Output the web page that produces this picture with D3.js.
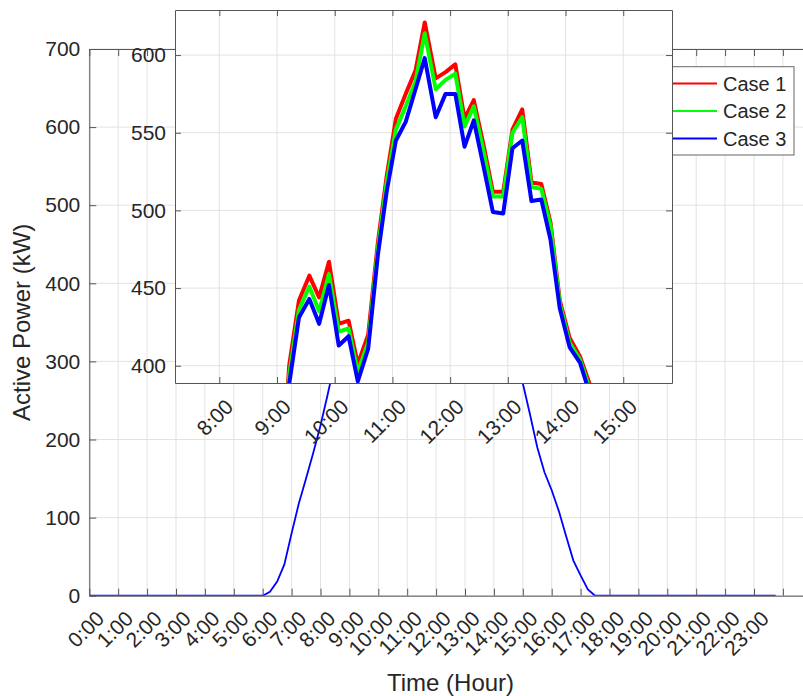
<!DOCTYPE html>
<html>
<head>
<meta charset="utf-8">
<script src="https://cdn.jsdelivr.net/npm/d3@7"></script>
<style>
  body { margin: 0; background: #fff; }
  text { font-family: "Liberation Sans", Arial, sans-serif; fill: #262626; }
  .grid line { stroke: #e2e2e2; stroke-width: 1; }
  .axis path, .axis line { stroke: #555; }
  .axis text { font-size: 21px; }
</style>
</head>
<body>
<svg id="chart" width="803" height="696"></svg>
<script>
// ---- data ----
// whole day, Case 3 (the blue curve), hour of day -> kW
var mainHours = [0, 6, 6.25, 6.5, 6.75, 7, 7.25, 7.5, 7.75, 8, 8.25, 8.5, 8.75, 9, 9.25, 9.5, 9.75, 10,
  10.25, 10.5, 10.75, 11, 11.25, 11.5, 11.75, 12, 12.25, 12.5, 12.75, 13, 13.25, 13.5, 13.75, 14, 14.25,
  14.5, 14.75, 15, 15.25, 15.5, 15.75, 16, 16.25, 16.5, 16.75, 17, 17.25, 17.5, 23.75];
var mainPower = [0, 0, 5, 18, 40, 80, 118, 150, 183, 218, 258, 300, 340, 380, 420, 440, 430, 450,
  420, 400, 470, 540, 560, 595, 560, 575, 545, 540, 500, 520, 545, 505, 480, 420, 400,
  360, 315, 272, 232, 190, 158, 135, 108, 76, 45, 26, 8, 0, 0];
var mainTickHours = [0, 1, 2, 3, 4, 5, 6, 7, 8, 9, 10, 11, 12, 13, 14, 15, 16, 17, 18, 19, 20, 21, 22, 23, 24];
var mainTickLabels = ["0:00", "1:00", "2:00", "3:00", "4:00", "5:00", "6:00", "7:00", "8:00", "9:00", "10:00",
  "11:00", "12:00", "13:00", "14:00", "15:00", "16:00", "17:00", "18:00", "19:00", "20:00", "21:00", "22:00", "23:00"];
var mainYTicks = [0, 100, 200, 300, 400, 500, 600, 700];

// zoomed inset, three cases
var insetHours = [9.04, 9.21, 9.38, 9.56, 9.73, 9.9, 10.07, 10.24, 10.4, 10.58, 10.75, 10.9, 11.06, 11.23,
  11.4, 11.56, 11.75, 11.92, 12.09, 12.25, 12.41, 12.58, 12.74, 12.92, 13.08, 13.25, 13.41, 13.58, 13.74,
  13.9, 14.07, 14.25, 14.42, 14.58];
var case1 = [300, 400, 442, 458, 444, 467, 427, 429, 401, 420, 480, 522, 559, 575, 590, 621, 585, 589, 594,
  559, 571, 542, 512, 512, 552, 565, 518, 517, 492, 442, 418, 406, 388, 330];
var case2 = [300, 394, 436, 451, 435, 459, 422, 424, 396, 415, 476, 518, 552, 567, 583, 614, 578, 584, 588,
  554, 567, 538, 509, 509, 550, 560, 515, 514, 490, 440, 415, 404, 385, 328];
var case3 = [300, 388, 431, 443, 427, 452, 413, 419, 390, 411, 472, 512, 545, 557, 578, 598, 560, 575, 575,
  541, 558, 528, 499, 498, 540, 545, 506, 507, 481, 437, 412, 402, 382, 325];
var insetTickHours = [8, 9, 10, 11, 12, 13, 14, 15];
var insetTickLabels = ["8:00", "9:00", "10:00", "11:00", "12:00", "13:00", "14:00", "15:00"];
var insetYTicks = [400, 450, 500, 550, 600];

var caseNames = ["Case 1", "Case 2", "Case 3"];
var caseColors = ["#ff0000", "#00ff00", "#0000ff"];

var svg = d3.select("#chart");

// ---- main axes ----
var M = {left: 89.3, right: 811.8, top: 49, bottom: 595.7};
var x = d3.scaleLinear().domain([0, 25]).range([M.left, M.right]);
var y = d3.scaleLinear().domain([0, 700]).range([M.bottom, M.top]);

svg.append("clipPath").attr("id", "clipMain").append("rect")
    .attr("x", M.left).attr("y", M.top).attr("width", M.right - M.left).attr("height", M.bottom - M.top);

var main = svg.append("g");
var mgrid = main.append("g").classed("grid", true);
mgrid.selectAll(".gx").data(mainTickHours).enter().append("line").attr("class", "gx")
    .attr("x1", function(d) { return x(d); }).attr("x2", function(d) { return x(d); })
    .attr("y1", M.top).attr("y2", M.bottom);
mgrid.selectAll(".gy").data(mainYTicks).enter().append("line").attr("class", "gy")
    .attr("x1", M.left).attr("x2", M.right)
    .attr("y1", function(d) { return y(d); }).attr("y2", function(d) { return y(d); });

var line = d3.line().x(function(d) { return x(d[0]); }).y(function(d) { return y(d[1]); });
main.append("path")
    .datum(mainHours.map(function(h, i) { return [h, mainPower[i]]; }))
    .attr("clip-path", "url(#clipMain)")
    .attr("fill", "none").attr("stroke", caseColors[2]).attr("stroke-width", 1.8)
    .attr("d", line);

main.append("g").classed("axis", true).attr("transform", `translate(0,${M.bottom})`)
    .call(d3.axisBottom(x).tickValues(mainTickHours).tickSize(-7).tickSizeOuter(0).tickFormat(""));
main.append("g").classed("axis", true).attr("transform", `translate(0,${M.top})`)
    .call(d3.axisTop(x).tickValues(mainTickHours).tickSize(-7).tickSizeOuter(0).tickFormat(""));
main.append("g").classed("axis", true).attr("transform", `translate(${M.left},0)`)
    .call(d3.axisLeft(y).tickValues(mainYTicks).tickSize(-7).tickSizeOuter(0).tickPadding(9));

main.append("g").selectAll("text").data(mainTickLabels).enter().append("text")
    .attr("transform", function(d, i) { return `translate(${x(mainTickHours[i]) + 11},${M.bottom + 19}) rotate(-45)`; })
    .attr("text-anchor", "end").attr("dy", "0.35em").style("font-size", "21px")
    .text(function(d) { return d; });

main.append("text").attr("x", (M.left + M.right) / 2).attr("y", 691)
    .attr("text-anchor", "middle").style("font-size", "24px").text("Time (Hour)");
main.append("text").attr("transform", `translate(30,${(M.top + M.bottom) / 2}) rotate(-90)`)
    .attr("text-anchor", "middle").style("font-size", "24px").text("Active Power (kW)");

// ---- legend (its left part sits under the inset) ----
var L = {x: 655, y: 66.7, w: 139, h: 88.3, row: 27.5};
var legend = svg.append("g");
legend.append("rect").attr("x", L.x).attr("y", L.y).attr("width", L.w).attr("height", L.h)
    .attr("fill", "#fff").attr("stroke", "#666");
var items = legend.selectAll("g").data(caseNames).enter().append("g")
    .attr("transform", function(d, i) { return `translate(0,${L.y + 16.8 + i * L.row})`; });
items.append("line").attr("x1", L.x + 6).attr("x2", 717).attr("y1", 0).attr("y2", 0)
    .attr("stroke", function(d, i) { return caseColors[i]; }).attr("stroke-width", 2);
items.append("text").attr("x", 723).attr("dy", "0.35em").style("font-size", "20px")
    .text(function(d) { return d; });

// ---- inset axes ----
var I = {left: 175, right: 672, top: 10, bottom: 383};
var xi = d3.scaleLinear().domain([7.232, 15.845]).range([I.left, I.right]);
var yi = d3.scaleLinear().domain([388.9, 629]).range([I.bottom, I.top]);

svg.append("clipPath").attr("id", "clipInset").append("rect")
    .attr("x", I.left).attr("y", I.top).attr("width", I.right - I.left).attr("height", I.bottom - I.top);

var inset = svg.append("g");
inset.append("rect").attr("x", I.left).attr("y", I.top)
    .attr("width", I.right - I.left).attr("height", I.bottom - I.top).attr("fill", "#fff");
var igrid = inset.append("g").classed("grid", true);
igrid.selectAll(".gx").data(insetTickHours).enter().append("line").attr("class", "gx")
    .attr("x1", function(d) { return xi(d); }).attr("x2", function(d) { return xi(d); })
    .attr("y1", I.top).attr("y2", I.bottom);
igrid.selectAll(".gy").data(insetYTicks).enter().append("line").attr("class", "gy")
    .attr("x1", I.left).attr("x2", I.right)
    .attr("y1", function(d) { return yi(d); }).attr("y2", function(d) { return yi(d); });

var iline = d3.line().x(function(d) { return xi(d[0]); }).y(function(d) { return yi(d[1]); });
[case1, case2, case3].forEach(function(vals, k) {
  inset.append("path")
      .datum(insetHours.map(function(h, i) { return [h, vals[i]]; }))
      .attr("clip-path", "url(#clipInset)")
      .attr("fill", "none").attr("stroke", caseColors[k]).attr("stroke-width", 4)
      .attr("stroke-linejoin", "round")
      .attr("d", iline);
});

inset.append("g").classed("axis", true).attr("transform", `translate(0,${I.bottom})`)
    .call(d3.axisBottom(xi).tickValues(insetTickHours).tickSize(-6).tickSizeOuter(0).tickFormat(""));
inset.append("g").classed("axis", true).attr("transform", `translate(0,${I.top})`)
    .call(d3.axisTop(xi).tickValues(insetTickHours).tickSize(-6).tickSizeOuter(0).tickFormat(""));
inset.append("g").classed("axis", true).attr("transform", `translate(${I.left},0)`)
    .call(d3.axisLeft(yi).tickValues(insetYTicks).tickSize(-6).tickSizeOuter(0).tickPadding(9));
inset.append("g").classed("axis", true).attr("transform", `translate(${I.right},0)`)
    .call(d3.axisRight(yi).tickValues(insetYTicks).tickSize(-6).tickSizeOuter(0).tickFormat(""));

inset.append("g").selectAll("text").data(insetTickLabels).enter().append("text")
    .attr("transform", function(d, i) { return `translate(${xi(insetTickHours[i]) + 10},${I.bottom + 20}) rotate(-45)`; })
    .attr("text-anchor", "end").attr("dy", "0.35em").style("font-size", "21px")
    .text(function(d) { return d; });
</script>
</body>
</html>
